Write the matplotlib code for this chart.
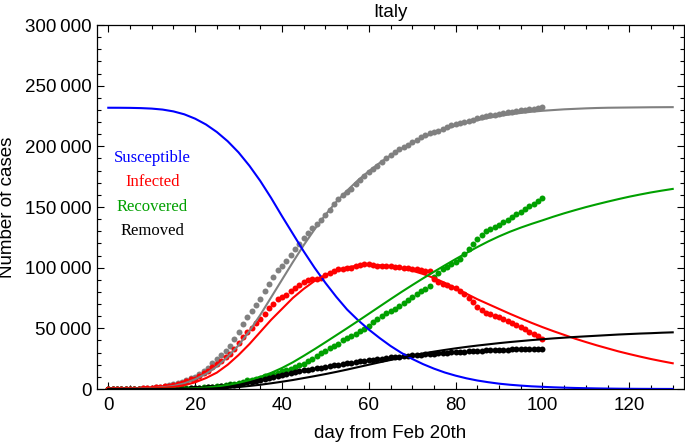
import matplotlib
matplotlib.use("Agg")
import matplotlib.pyplot as plt
from matplotlib.ticker import MultipleLocator, FuncFormatter

plt.rcParams['font.family'] = ['Liberation Sans', 'DejaVu Sans']

# observed data, one point per day (day 0 .. 100)
days = list(range(101))
total = [3, 3, 20, 79, 155, 229, 322, 400, 650, 888,
         1128, 1694, 2036, 2502, 3089, 3858, 4636, 5883, 7375, 9172,
         10149, 12462, 15113, 17660, 21157, 24747, 27980, 31506, 35713, 41035,
         47021, 53578, 59138, 63927, 69176, 74386, 80539, 86498, 92472, 97689,
         101739, 105792, 110574, 115242, 119827, 124632, 128948, 132547, 135586, 139422,
         143626, 147577, 152271, 156363, 159516, 162488, 165155, 168941, 172434, 175925,
         178972, 181228, 183957, 187327, 189973, 192994, 195351, 197675, 199414, 201505,
         203591, 205463, 207428, 209328, 210717, 211938, 213013, 214457, 215858, 217185,
         218268, 219070, 219814, 221216, 222104, 223096, 223885, 224760, 225435, 225886,
         226699, 227364, 228006, 228658, 229327, 229858, 230158, 230555, 231139, 231732,
         232248]
infected = [3, 3, 19, 76, 150, 221, 311, 385, 588, 821,
            1049, 1577, 1835, 2263, 2706, 3296, 3916, 5061, 6387, 7985,
            8514, 10590, 12839, 14955, 17750, 20603, 23073, 26062, 28710, 33190,
            37860, 42681, 46638, 50418, 54030, 57521, 62013, 66414, 70065, 73880,
            75528, 77635, 80572, 83049, 85388, 88274, 90100, 91000, 91000, 91800,
            93800, 95200, 97300, 99000, 99100, 99400, 100000, 101300, 102200, 103200,
            103300, 102100, 101300, 101500, 101300, 101000, 100800, 100500, 100000, 99500,
            99000, 98500, 98200, 97500, 97000, 90400, 88200, 86300, 85400, 84000,
            82900, 81000, 78100, 74800, 71500, 67700, 65300, 63000, 62000, 60400,
            59000, 57500, 56000, 54000, 52600, 51100, 49300, 47100, 45600, 43600,
            41500]
recovered = [0, 0, 0, 0, 0, 1, 1, 3, 45, 46,
             50, 83, 149, 160, 276, 414, 523, 589, 622, 724,
             1004, 1045, 1258, 1439, 1966, 2335, 2749, 2941, 4025, 4440,
             5129, 6072, 7024, 7432, 8326, 9362, 10361, 10950, 12384, 13030,
             14620, 15729, 16847, 18278, 19758, 20996, 23000, 25000, 27500, 30000,
             31500, 33500, 35500, 37500, 40000, 42000, 43500, 45500, 47500, 49500,
             52000, 55000, 58000, 60500, 62500, 64000, 66000, 68000, 70500, 73000,
             76000, 78500, 80500, 82500, 85000, 92500, 95500, 98500, 100500, 103000,
             105000, 107500, 111000, 115500, 119500, 124000, 127000, 130000, 131500, 133500,
             135500, 137500, 139500, 142000, 144000, 146000, 148000, 150500, 152500, 155000,
             157500]
removed = [0, 0, 1, 2, 3, 7, 10, 12, 17, 21,
           29, 34, 52, 79, 107, 148, 197, 233, 366, 463,
           631, 827, 1016, 1266, 1441, 1809, 2158, 2503, 2978, 3405,
           4032, 4825, 5476, 6077, 6820, 7503, 8165, 9134, 10023, 10779,
           11591, 12428, 13155, 13915, 14681, 15362, 15887, 16523, 17127, 17669,
           18279, 18849, 19468, 19899, 20465, 21067, 21645, 22170, 22745, 23227,
           23660, 24114, 24648, 25085, 25549, 25969, 26384, 26644, 26977, 27359,
           27682, 27967, 28236, 28710, 28884, 29079, 29315, 29684, 29958, 30201,
           30395, 30560, 30739, 30911, 31106, 31368, 31610, 31763, 31908, 32007,
           32169, 32330, 32486, 32616, 32735, 32785, 32877, 32955, 33072, 33142,
           33229]

# model curves, read every 2.5 days (day 0 .. 130)
fit_days = [k * 2.5 for k in range(53)]
s_fit = [231800, 231780, 231700, 231500, 231100, 230300, 228800, 226400, 222800, 218000,
         211800, 204200, 195000, 184000, 171500, 157500, 142500, 128000, 113500, 100000,
         87500, 76000, 65500, 56800, 49000, 42000, 35500, 29800, 24800, 20500,
         16800, 13600, 11000, 8800, 7000, 5600, 4400, 3500, 2800, 2200,
         1800, 1400, 1100, 850, 650, 480, 350, 250, 180, 130,
         90, 60, 40]
i_fit = [50, 90, 150, 280, 500, 950, 1700, 3100, 5500, 9000,
         13500, 20000, 28000, 37000, 47000, 57000, 66000, 75000, 82500, 89000,
         94000, 97800, 100300, 101800, 102300, 102000, 101000, 99500, 97500, 94800,
         91500, 87500, 83000, 78500, 74000, 70000, 66000, 62000, 58200, 54500,
         51000, 47700, 44600, 41500, 38700, 36000, 33500, 31000, 28800, 26700,
         24700, 22900, 21200]
r_fit = [0, 0, 0, 10, 30, 80, 180, 350, 650, 1200,
         2100, 3400, 5100, 7300, 10000, 13300, 17300, 22000, 27300, 32800,
         38500, 44300, 50100, 56000, 62000, 68000, 74000, 79900, 85600, 91200,
         96600, 101900, 107100, 112100, 117000, 121600, 125800, 129600, 133000, 136100,
         139000, 142000, 144800, 147400, 149900, 152200, 154400, 156500, 158500, 160300,
         162000, 163500, 164900]
d_fit = [0, 0, 0, 0, 0, 5, 20, 50, 100, 250,
         500, 1000, 1600, 2500, 3500, 4700, 6000, 7400, 9000, 10600,
         12300, 14100, 16000, 18000, 20000, 22000, 23900, 25800, 27600, 29300,
         30800, 32200, 33500, 34700, 35800, 36800, 37800, 38700, 39500, 40300,
         41000, 41700, 42300, 42900, 43400, 43900, 44400, 44900, 45300, 45700,
         46000, 46400, 46700]
total_fit = [100, 150, 200, 400, 700, 1400, 2500, 4600, 8000, 12500,
             18500, 26500, 36000, 47800, 61000, 75500, 90000, 104500, 118500, 131500,
             143500, 154200, 163500, 172000, 179500, 186300, 192500, 198000, 203000, 207300,
             211000, 214200, 217000, 219400, 221500, 223400, 225000, 226300, 227500, 228500,
             229300, 229900, 230500, 230900, 231300, 231600, 231800, 231900, 232000, 232100,
             232200, 232250, 232300]

BLUE = '#0000ff'
RED = '#ff0000'
GREEN = '#00a000'
GRAY = '#808080'

fig = plt.figure(figsize=(6.85, 4.44), dpi=100)
ax = fig.add_axes([97 / 685, 1 - 389 / 444, 587 / 685, 364 / 444])

ms = 4.3
ax.plot(days, total, 'o', color=GRAY, ms=ms, mec='none')
ax.plot(days, recovered, 'o', color=GREEN, ms=ms, mec='none')
ax.plot(days, removed, 'o', color='black', ms=ms, mec='none')
ax.plot(days, infected, 'o', color=RED, ms=ms, mec='none')

lw = 1.5
ax.plot(fit_days, total_fit, color=GRAY, lw=lw)
ax.plot(fit_days, s_fit, color=BLUE, lw=lw)
ax.plot(fit_days, i_fit, color=RED, lw=lw)
ax.plot(fit_days, r_fit, color=GREEN, lw=lw)
ax.plot(fit_days, d_fit, color='black', lw=lw)

ax.set_xlim(-2.6, 132.6)
ax.set_ylim(0, 300000)
ax.xaxis.set_major_locator(MultipleLocator(20))
ax.xaxis.set_minor_locator(MultipleLocator(5))
ax.yaxis.set_major_locator(MultipleLocator(50000))
ax.yaxis.set_minor_locator(MultipleLocator(10000))
ax.yaxis.set_major_formatter(FuncFormatter(lambda v, p: f"{int(v):,}".replace(",", "\u2009")))
ax.tick_params(which='both', direction='in', top=True, right=True, width=0.8)
ax.tick_params(which='major', length=5, labelsize=13.5)
ax.tick_params(which='minor', length=3)
ax.tick_params(axis='x', pad=6)
ax.tick_params(axis='y', pad=4)
for sp in ax.spines.values():
    sp.set_linewidth(0.9)

ax.set_title('Italy', fontsize=13.5, pad=6)
ax.set_xlabel('day from Feb 20th', fontsize=13.5, labelpad=8)
ax.set_ylabel('Number of cases', fontsize=13.5, labelpad=6)

# colour-coded legend text
labels = [('Susceptible', BLUE), ('Infected', RED), ('Recovered', GREEN), ('Removed', 'black')]
for k, (txt, col) in enumerate(labels):
    ax.text(0.094, 0.635 - k * 0.067, txt, color=col, transform=ax.transAxes,
            ha='center', va='center', fontsize=12, family=['Liberation Serif', 'DejaVu Serif'])

fig.savefig('out.png', dpi=100)
